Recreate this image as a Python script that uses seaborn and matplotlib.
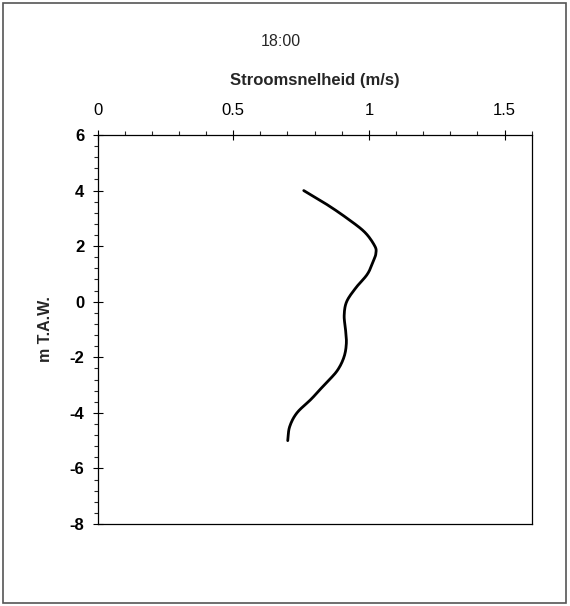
import matplotlib
matplotlib.use("Agg")
import matplotlib.pyplot as plt
from matplotlib.patches import Rectangle
from matplotlib.ticker import MultipleLocator
import numpy as np
import seaborn as sns
import pandas as pd

# Velocity profile at 18:00 (depth in m T.A.W., speed in m/s)
depth = [4.0, 3.5, 3.0, 2.5, 2.0, 1.75, 1.5, 1.0, 0.5, 0.0,
         -0.5, -1.0, -1.5, -2.0, -2.5, -3.0, -3.5, -4.0, -4.5, -5.0]
speed = [0.760, 0.845, 0.920, 0.985, 1.022, 1.026, 1.018, 0.995, 0.952, 0.918,
         0.909, 0.914, 0.917, 0.908, 0.882, 0.835, 0.788, 0.735, 0.708, 0.701]
x_ticks = [0, 0.5, 1, 1.5]
x_tick_labels = ["0", "0.5", "1", "1.5"]
y_ticks = [6, 4, 2, 0, -2, -4, -6, -8]


def smooth_line(xs, ys, steps=12):
    """Catmull-Rom smoothing through the measured points (smoothed line style)."""
    p = np.column_stack([xs, ys]).astype(float)
    p = np.vstack([2 * p[0] - p[1], p, 2 * p[-1] - p[-2]])
    out = []
    t = np.linspace(0, 1, steps, endpoint=False)[:, None]
    for i in range(1, len(p) - 2):
        p0, p1, p2, p3 = p[i - 1], p[i], p[i + 1], p[i + 2]
        seg = 0.5 * ((2 * p1) + (-p0 + p2) * t
                     + (2 * p0 - 5 * p1 + 4 * p2 - p3) * t ** 2
                     + (-p0 + 3 * p1 - 3 * p2 + p3) * t ** 3)
        out.append(seg)
    out.append(p[-2][None, :])
    out = np.vstack(out)
    return out[:, 0], out[:, 1]


sns.set_theme(style="white")
plt.rcParams["font.family"] = ["Liberation Sans", "DejaVu Sans"]
plt.rcParams["axes.unicode_minus"] = False

W, H = 570, 606
fig = plt.figure(figsize=(W / 100, H / 100), dpi=100)
ax = fig.add_axes([97.5 / W, 1 - 524 / H, (531.7 - 97.5) / W, (524 - 135) / H])

sx, sy = smooth_line(speed, depth)
df = pd.DataFrame({"speed": sx, "depth": sy})
sns.lineplot(data=df, x="speed", y="depth", sort=False, color="black",
             linewidth=2.0, ax=ax)

ax.set_xlim(0, 1.6)
ax.set_ylim(-8, 6)

# x axis on top
ax.xaxis.tick_top()
ax.xaxis.set_label_position("top")
ax.set_xticks(x_ticks)
ax.set_xticklabels(x_tick_labels)
ax.xaxis.set_minor_locator(MultipleLocator(0.1))
ax.set_yticks(y_ticks)
ax.yaxis.set_minor_locator(MultipleLocator(0.4))

ax.tick_params(axis="x", which="major", direction="inout", length=7, width=0.8,
               labelsize=12, pad=9, colors="black", top=True, bottom=False)
ax.tick_params(axis="x", which="minor", direction="out", length=3, width=0.8,
               top=True, bottom=False)
ax.tick_params(axis="y", which="major", direction="inout", length=7, width=0.8,
               labelsize=12, pad=6, colors="black", left=True)
ax.tick_params(axis="y", which="minor", direction="out", length=3, width=0.8,
               left=True)
for lab in ax.get_yticklabels():
    lab.set_fontweight("bold")

for side in ["left", "right", "top", "bottom"]:
    ax.spines[side].set_color("black")
    ax.spines[side].set_linewidth(0.9)
    ax.spines[side].set_visible(True)

ax.set_xlabel("Stroomsnelheid (m/s)", fontsize=12, fontweight="bold", labelpad=13)
ax.set_ylabel("m T.A.W.", fontsize=11.5, fontweight="bold", labelpad=12)

fig.text(281 / W, 1 - 42 / H, "18:00", ha="center", va="center", fontsize=11.5)

# outer frame
fig.patches.append(Rectangle((3 / W, 3 / H), 563 / W, 600 / H,
                             transform=fig.transFigure, fill=False,
                             edgecolor="#555555", linewidth=1.2))

fig.savefig("out.png", dpi=100)
